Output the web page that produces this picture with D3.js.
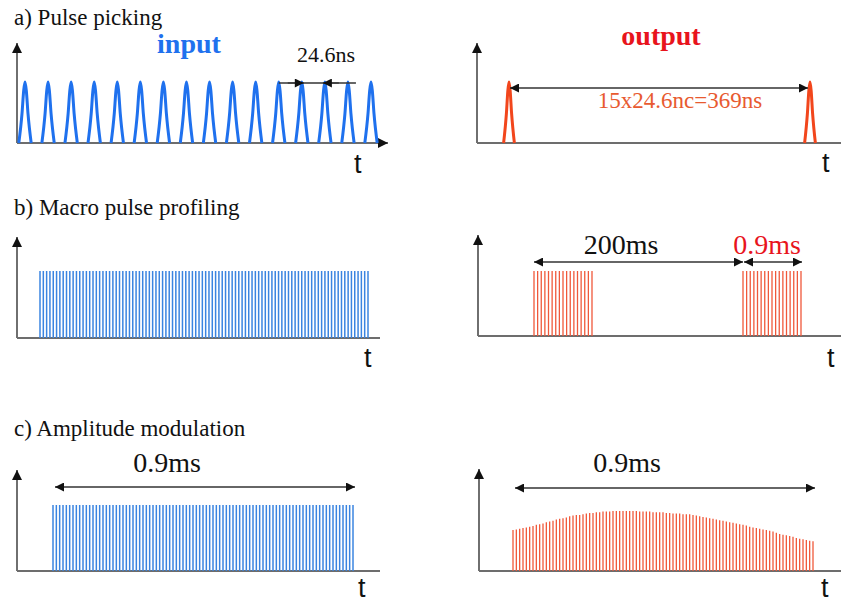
<!DOCTYPE html>
<html>
<head>
<meta charset="utf-8">
<script src="https://cdn.jsdelivr.net/npm/d3@7/dist/d3.min.js"></script>
<style>
body { margin: 0; background: #fff; }
svg { display: block; }
</style>
</head>
<body>
<svg id="chart" width="841" height="604"></svg>
<script>
// ---- data ----
var panelTitles = ["a) Pulse picking", "b) Macro pulse profiling", "c) Amplitude modulation"];

// a) micro pulses, ns (one every 24.6 ns) and the picked ones (every 15th)
var inputPulseTimes = [0, 24.6, 49.2, 73.8, 98.4, 123, 147.6, 172.2, 196.8, 221.4, 246, 270.6, 295.2, 319.8, 344.4, 369];
var outputPulseTimes = [0, 369];
var pulseShape = [[-6.6, 0], [-3.2, 0.48], [-1.4, 0.86], [0, 1], [1.4, 0.86], [3.2, 0.48], [6.6, 0]]; // [dt ns, amplitude]

// b) macro pulse trains
var macroInputCount = 100;      // micro pulses drawn in one long train
var macroStarts = [0, 200];     // ms
var macroOutputCount = 17;      // micro pulses drawn in each picked macro pulse
var macroDrawnSpan = 55.5;      // drawn length of a 0.9 ms macro (not to scale)

// c) amplitude of each micro pulse, input flat, output shaped
var modInputCount = 91;
var modOutputAmp = [
  0.62, 0.63, 0.64, 0.65, 0.66, 0.67, 0.68, 0.70, 0.71, 0.72,
  0.74, 0.75, 0.76, 0.78, 0.79, 0.80, 0.81, 0.83, 0.84, 0.85,
  0.85, 0.86, 0.87, 0.88, 0.88, 0.89, 0.89, 0.90, 0.90, 0.90,
  0.91, 0.91, 0.91, 0.91, 0.91, 0.91, 0.91, 0.91, 0.90, 0.90,
  0.90, 0.90, 0.89, 0.89, 0.89, 0.89, 0.88, 0.88, 0.87, 0.87,
  0.87, 0.86, 0.86, 0.86, 0.85, 0.84, 0.83, 0.82, 0.81, 0.80,
  0.79, 0.78, 0.77, 0.76, 0.75, 0.74, 0.73, 0.72, 0.71, 0.70,
  0.69, 0.67, 0.66, 0.65, 0.64, 0.63, 0.62, 0.61, 0.60, 0.58,
  0.56, 0.55, 0.54, 0.53, 0.52, 0.50, 0.49, 0.48, 0.47, 0.46,
  0.45
];

var serif = "'Liberation Serif', 'Times New Roman', 'DejaVu Serif', serif";
var sans = "'Liberation Sans', Arial, sans-serif";
var blue = "#1f71ee", red = "#f2461c", lineBlue = "#3a84e0", lineRed = "#f0583a";

var svg = d3.select("#chart");
var defs = svg.append("defs");

function addMarker(id, w, h) {
	defs.append("marker")
		.attr("id", id)
		.attr("viewBox", "0 0 10 10")
		.attr("refX", 10)
		.attr("refY", 5)
		.attr("markerUnits", "userSpaceOnUse")
		.attr("markerWidth", w)
		.attr("markerHeight", h)
		.attr("orient", "auto-start-reverse")
		.append("path")
		.attr("d", "M0,0L10,5L0,10Z")
		.attr("fill", "#111");
}
addMarker("tip", 11, 9);
addMarker("axisTip", 11, 10);

/**
 * [drawFrame draws y arrow, time axis and the "t" label]
 */
function drawFrame(o) {
	svg.append("line")
		.attr("x1", o.x0).attr("x2", o.x0)
		.attr("y1", o.yBase).attr("y2", o.yTop)
		.attr("stroke", "#333").attr("stroke-width", 1.4)
		.attr("marker-end", "url(#axisTip)");
	var base = svg.append("line")
		.attr("x1", o.x0).attr("x2", o.xEnd)
		.attr("y1", o.yBase).attr("y2", o.yBase)
		.attr("stroke", "#6d6d6d").attr("stroke-width", 2);
	if (o.arrow) base.attr("marker-end", "url(#axisTip)");
	svg.append("text")
		.attr("x", o.tx).attr("y", o.ty)
		.attr("font-family", sans).attr("font-size", 27)
		.attr("fill", "#111")
		.text("t");
}

function dimArrow(x1, x2, y, start, end) {
	var l = svg.append("line")
		.attr("x1", x1).attr("x2", x2).attr("y1", y).attr("y2", y)
		.attr("stroke", "#333").attr("stroke-width", 1.3);
	if (start) l.attr("marker-start", "url(#tip)");
	if (end) l.attr("marker-end", "url(#tip)");
}

function label(x, y, txt, size, color, weight) {
	svg.append("text")
		.attr("x", x).attr("y", y)
		.attr("text-anchor", "middle")
		.attr("font-family", serif)
		.attr("font-size", size)
		.attr("font-weight", weight || "normal")
		.attr("fill", color || "#111")
		.text(txt);
}

// titles
svg.selectAll(".title").data(panelTitles).enter().append("text")
	.attr("class", "title")
	.attr("x", 14)
	.attr("y", function(d, i) { return [25, 215, 436][i]; })
	.attr("font-family", serif)
	.attr("font-size", 23)
	.attr("fill", "#111")
	.text(function(d) { return d; });

// ---------- a) pulse picking ----------
var xAin = d3.scaleLinear().domain([0, 369]).range([25, 371]);
var xAout = d3.scaleLinear().domain([0, 369]).range([509, 810]);
var yA = d3.scaleLinear().domain([0, 1]).range([143, 82]);

drawFrame({x0: 17, yTop: 43, yBase: 143, xEnd: 388, arrow: true, tx: 354, ty: 173});
drawFrame({x0: 477, yTop: 43, yBase: 143, xEnd: 841, tx: 822, ty: 172});

function pulsePath(xs) {
	return function(t) {
		return d3.line()
			.x(function(p) { return xs(t + p[0]); })
			.y(function(p) { return yA(p[1]); })
			.curve(d3.curveMonotoneX)(pulseShape);
	};
}
svg.append("g").selectAll("path").data(inputPulseTimes).enter().append("path")
	.attr("d", pulsePath(xAin))
	.attr("fill", "none").attr("stroke", blue).attr("stroke-width", 3)
	.attr("stroke-linejoin", "round");
svg.append("g").selectAll("path").data(outputPulseTimes).enter().append("path")
	.attr("d", pulsePath(xAout))
	.attr("fill", "none").attr("stroke", red).attr("stroke-width", 3)
	.attr("stroke-linejoin", "round");

label(189, 53, "input", 28, blue, "bold");
label(661, 45, "output", 28, "#e8141c", "bold");

// 24.6 ns spacing marks
svg.append("line")
	.attr("x1", xAin(inputPulseTimes[11])).attr("x2", xAin(inputPulseTimes[14]) + 8)
	.attr("y1", 83).attr("y2", 83)
	.attr("stroke", "#333").attr("stroke-width", 1.3);
dimArrow(xAin(inputPulseTimes[12]) - 14, xAin(inputPulseTimes[12]) + 2, 83, false, true);
dimArrow(xAin(inputPulseTimes[13]) - 2, xAin(inputPulseTimes[13]) + 14, 83, true, false);
label(326, 62, "24.6ns", 22);

dimArrow(xAout(outputPulseTimes[0]) + 1, xAout(outputPulseTimes[1]) - 2, 88, true, true);
label(680, 108, "15x24.6nc=369ns", 23, "#e85a30");

// ---------- b) macro pulse profiling ----------
var xBin = d3.scaleLinear().domain([0, macroInputCount - 1]).range([40, 368]);
var yBin = d3.scaleLinear().domain([0, 1]).range([338, 271]);
var xBout = d3.scaleLinear().domain([0, 200]).range([534, 743]);
var yBout = d3.scaleLinear().domain([0, 1]).range([336, 271]);

drawFrame({x0: 17, yTop: 237, yBase: 338, xEnd: 380, tx: 364, ty: 367});
drawFrame({x0: 478, yTop: 235, yBase: 336, xEnd: 841, tx: 827, ty: 367});

svg.append("g").selectAll("line").data(d3.range(macroInputCount)).enter().append("line")
	.attr("x1", function(d) { return xBin(d); }).attr("x2", function(d) { return xBin(d); })
	.attr("y1", yBin(0)).attr("y2", yBin(1))
	.attr("stroke", lineBlue).attr("stroke-width", 1.5);

var outMicro = [];
macroStarts.forEach(function(s) {
	d3.range(macroOutputCount).forEach(function(j) {
		outMicro.push(s + j * macroDrawnSpan / (macroOutputCount - 1));
	});
});
svg.append("g").selectAll("line").data(outMicro).enter().append("line")
	.attr("x1", function(d) { return xBout(d); }).attr("x2", function(d) { return xBout(d); })
	.attr("y1", yBout(0)).attr("y2", yBout(1))
	.attr("stroke", lineRed).attr("stroke-width", 1.3);

dimArrow(xBout(macroStarts[0]), xBout(macroStarts[1]), 262, true, true);
dimArrow(xBout(macroStarts[1]) + 1, xBout(macroStarts[1] + macroDrawnSpan) + 1, 262, true, true);
label(621, 254, "200ms", 28);
label(767, 254, "0.9ms", 28, "#e8141c");

// ---------- c) amplitude modulation ----------
var xCin = d3.scaleLinear().domain([0, modInputCount - 1]).range([53, 353]);
var xCout = d3.scaleLinear().domain([0, modOutputAmp.length - 1]).range([513, 813]);
var yC = d3.scaleLinear().domain([0, 1]).range([571, 505]);

drawFrame({x0: 17, yTop: 470, yBase: 571, xEnd: 380, tx: 358, ty: 597});
drawFrame({x0: 479, yTop: 469, yBase: 571, xEnd: 841, tx: 821, ty: 597});

svg.append("g").selectAll("line").data(d3.range(modInputCount)).enter().append("line")
	.attr("x1", function(d) { return xCin(d); }).attr("x2", function(d) { return xCin(d); })
	.attr("y1", yC(0)).attr("y2", yC(1))
	.attr("stroke", lineBlue).attr("stroke-width", 1.5);

svg.append("g").selectAll("line").data(modOutputAmp).enter().append("line")
	.attr("x1", function(d, i) { return xCout(i); }).attr("x2", function(d, i) { return xCout(i); })
	.attr("y1", yC(0)).attr("y2", function(d) { return yC(d); })
	.attr("stroke", lineRed).attr("stroke-width", 1.3);

dimArrow(55, 355, 487, true, true);
dimArrow(515, 815, 488, true, true);
label(167, 472, "0.9ms", 28);
label(627, 472, "0.9ms", 28);
</script>
</body>
</html>
